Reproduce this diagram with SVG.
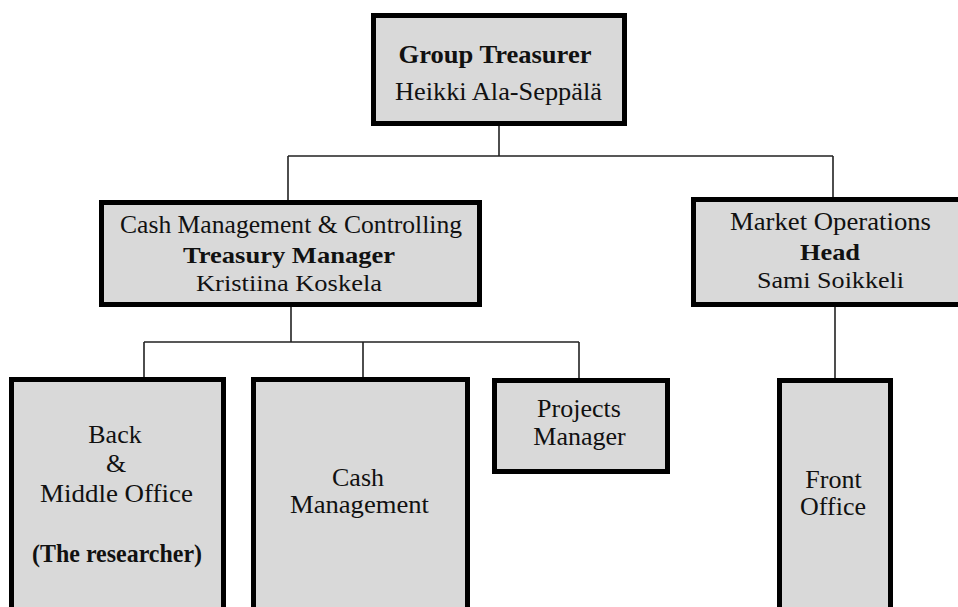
<svg xmlns="http://www.w3.org/2000/svg" width="958" height="607" viewBox="0 0 958 607">
<style>
.box{fill:#d9d9d9;stroke:#000;stroke-width:5}
.t{font-family:"Liberation Serif","Times New Roman",serif;font-size:26px;fill:#111;text-anchor:middle}
.s{font-size:24px}
.b{font-weight:bold}
.c{fill:none;stroke:#222;stroke-width:1.6}
</style>
<rect width="958" height="607" fill="#fff"/>
<g id="connectors">
<path class="c" d="M499 126V156M288 156H833M288 156V200M833 156V197"/>
<path class="c" d="M291 307V342M144 342H579M144 342V377M363 342V377M579 342V378"/>
<path class="c" d="M835 307V378"/>
</g>
<g id="group-treasurer">
<rect class="box" x="373.5" y="15.5" width="251" height="108"/>
<text class="t b" x="495" y="63" textLength="193" lengthAdjust="spacingAndGlyphs">Group Treasurer</text>
<text class="t" x="498.5" y="100" textLength="207" lengthAdjust="spacingAndGlyphs">Heikki Ala-Seppälä</text>
</g>
<g id="cash-management-controlling">
<rect class="box" x="101.5" y="202.5" width="378" height="102"/>
<text class="t" x="291" y="233" textLength="342" lengthAdjust="spacingAndGlyphs">Cash Management &amp; Controlling</text>
<text class="t s b" x="289" y="263" textLength="212" lengthAdjust="spacingAndGlyphs">Treasury Manager</text>
<text class="t s" x="289" y="291" textLength="186" lengthAdjust="spacingAndGlyphs">Kristiina Koskela</text>
</g>
<g id="market-operations">
<rect class="box" x="693.5" y="199.5" width="300" height="105"/>
<text class="t" x="830.5" y="230" textLength="201" lengthAdjust="spacingAndGlyphs">Market Operations</text>
<text class="t s b" x="830" y="260" textLength="60" lengthAdjust="spacingAndGlyphs">Head</text>
<text class="t s" x="830.5" y="288" textLength="147" lengthAdjust="spacingAndGlyphs">Sami Soikkeli</text>
</g>
<g id="back-middle-office">
<rect class="box" x="11.5" y="379.5" width="212" height="260"/>
<text class="t" x="115" y="443">Back</text>
<text class="t" x="116" y="472">&amp;</text>
<text class="t" x="116.5" y="502" textLength="153" lengthAdjust="spacingAndGlyphs">Middle Office</text>
<text class="t b" x="117" y="562" textLength="170" lengthAdjust="spacingAndGlyphs">(The researcher)</text>
</g>
<g id="cash-management">
<rect class="box" x="253.5" y="379.5" width="214" height="260"/>
<text class="t" x="358" y="486">Cash</text>
<text class="t" x="359.5" y="513" textLength="139" lengthAdjust="spacingAndGlyphs">Management</text>
</g>
<g id="projects-manager">
<rect class="box" x="494.5" y="380.5" width="173" height="91"/>
<text class="t" x="579" y="417">Projects</text>
<text class="t" x="579.5" y="445">Manager</text>
</g>
<g id="front-office">
<rect class="box" x="779.5" y="380.5" width="111" height="260"/>
<text class="t" x="833.5" y="488">Front</text>
<text class="t" x="833" y="515">Office</text>
</g>
</svg>
